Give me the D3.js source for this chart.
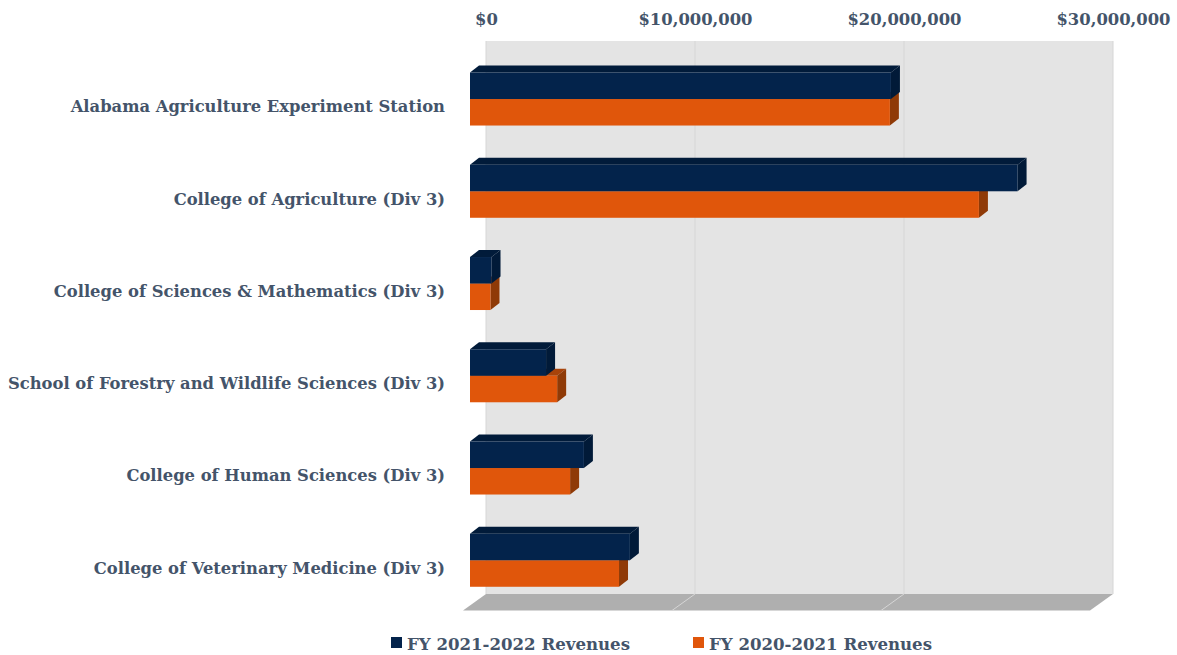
<!DOCTYPE html>
<html>
<head>
<meta charset="utf-8">
<script src="https://cdn.jsdelivr.net/npm/d3@7"></script>
<style>
  body { margin: 0; background: #fff; }
  text { font-family: "DejaVu Serif", serif; font-weight: bold; fill: #44546a; }
</style>
</head>
<body>
<svg id="svg" width="1177" height="655"></svg>
<script>
const categories = [
  'Alabama Agriculture Experiment Station',
  'College of Agriculture (Div 3)',
  'College of Sciences & Mathematics (Div 3)',
  'School of Forestry and Wildlife Sciences (Div 3)',
  'College of Human Sciences (Div 3)',
  'College of Veterinary Medicine (Div 3)'
]
const seriesNames = ['FY 2021-2022 Revenues', 'FY 2020-2021 Revenues']
const revenue2122 = [20140000, 26200000, 1030000, 3640000, 5450000, 7650000]
const revenue2021 = [20090000, 24350000, 980000, 4170000, 4790000, 7130000]
const tickValues = [0, 10000000, 20000000, 30000000]

const colors = [
  {front: '#03234b', top: '#011b3a', side: '#011a38'},
  {front: '#e0560b', top: '#a8430a', side: '#8f3a07'}
]

const svg = d3.select('#svg')

// back wall scale, the front of the bars is shifted left of it
const xBack = d3.scaleLinear().domain([0, 30000000]).range([486, 1113])
const xFront = d3.scaleLinear().domain([0, 30000000]).range([470, 1097])
const y = d3.scaleBand().domain(categories).range([52.9, 606.4]).paddingInner(0.4255).paddingOuter(0.2128)
const ySeries = d3.scaleBand().domain([0, 1]).range([0, y.bandwidth()])

const wallTop = 41, wallBottom = 594, floorFront = 610.5, floorDx = -23
const depthX = 9, depthY = -7

// wall and floor
svg.append('rect')
  .attr('x', xBack(0)).attr('y', wallTop)
  .attr('width', xBack(30000000) - xBack(0)).attr('height', wallBottom - wallTop)
  .attr('fill', '#e4e4e4')
svg.append('path')
  .attr('d', d3.line()([
    [xBack(0), wallBottom], [xBack(30000000), wallBottom],
    [xBack(30000000) + floorDx, floorFront], [xBack(0) + floorDx, floorFront]
  ]) + 'Z')
  .attr('fill', '#afafaf')

// value axis on top, ticks are the wall gridlines
const xAxis = d3.axisTop(xBack).tickValues(tickValues).tickSize(0).tickPadding(0)
  .tickFormat(d => d3.format('$,')(d))
const axisG = svg.append('g').attr('transform', 'translate(0,25)').call(xAxis)
axisG.select('.domain').remove()
axisG.selectAll('text').attr('font-size', 16.4).attr('dy', 0)

svg.append('g').selectAll('line')
  .data(tickValues)
  .enter()
  .append('line')
  .attr('x1', d => xBack(d)).attr('x2', d => xBack(d))
  .attr('y1', wallTop).attr('y2', wallBottom)
  .attr('stroke', '#d6d6d6').attr('stroke-width', 1)

svg.append('g').selectAll('line')
  .data(tickValues.slice(1, 3))
  .enter()
  .append('line')
  .attr('x1', d => xBack(d)).attr('x2', d => xBack(d) + floorDx)
  .attr('y1', wallBottom).attr('y2', floorFront)
  .attr('stroke', '#d6d6d6').attr('stroke-width', 1)

// category labels
const yAxis = d3.axisLeft(y).tickSize(0).tickPadding(0)
const catG = svg.append('g').attr('transform', 'translate(445,8)').call(yAxis)
catG.select('.domain').remove()
catG.selectAll('text').attr('font-size', 16.35).attr('dy', '0.32em')

// bars, orange first so navy overlaps its top face
const barData = []
categories.forEach((c, i) => {
  barData.push({cat: c, s: 1, value: revenue2021[i]})
  barData.push({cat: c, s: 0, value: revenue2122[i]})
})

const bars = svg.append('g').selectAll('g')
  .data(barData)
  .enter()
  .append('g')

const line = d3.line()
const yTop = d => y(d.cat) + ySeries(d.s)
const h = ySeries.bandwidth()

bars.append('path')
  .attr('d', d => line([
    [xFront(0), yTop(d)], [xFront(0) + depthX, yTop(d) + depthY],
    [xFront(d.value) + depthX, yTop(d) + depthY], [xFront(d.value), yTop(d)]
  ]) + 'Z')
  .attr('fill', d => colors[d.s].top)
bars.append('path')
  .attr('d', d => line([
    [xFront(d.value), yTop(d)], [xFront(d.value) + depthX, yTop(d) + depthY],
    [xFront(d.value) + depthX, yTop(d) + h + depthY], [xFront(d.value), yTop(d) + h]
  ]) + 'Z')
  .attr('fill', d => colors[d.s].side)
bars.append('rect')
  .attr('x', xFront(0))
  .attr('y', d => yTop(d))
  .attr('width', d => xFront(d.value) - xFront(0))
  .attr('height', h)
  .attr('fill', d => colors[d.s].front)

// legend
const legendX = d3.scaleOrdinal().domain(seriesNames).range([391, 693])
const legend = svg.append('g').selectAll('g')
  .data(seriesNames)
  .enter()
  .append('g')
  .attr('transform', d => `translate(${legendX(d)},0)`)
legend.append('rect')
  .attr('y', 637).attr('width', 11).attr('height', 11)
  .attr('fill', (d, i) => colors[i].front)
legend.append('text')
  .attr('x', 16).attr('y', 650)
  .attr('font-size', 16.6)
  .text(d => d)
</script>
</body>
</html>
